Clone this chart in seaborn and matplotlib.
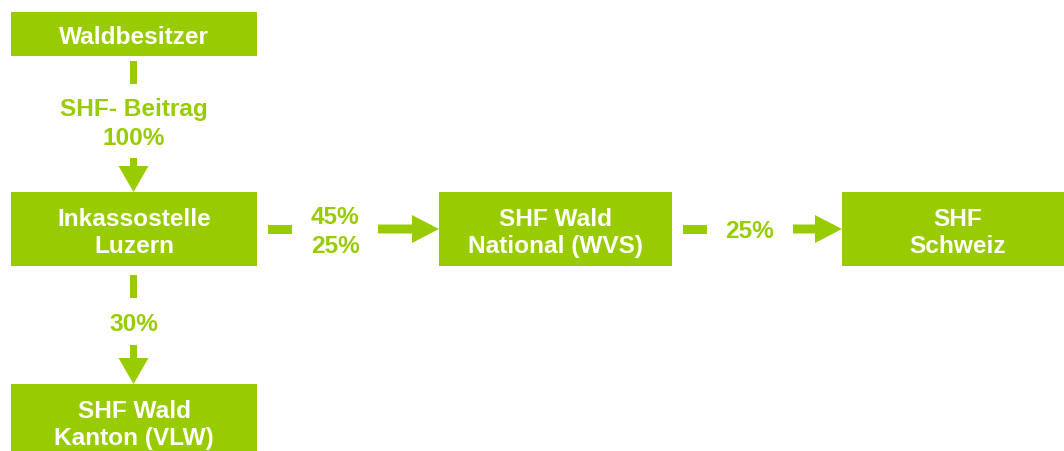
import matplotlib
matplotlib.use("Agg")
import matplotlib.pyplot as plt
from matplotlib.patches import Rectangle, FancyArrow
import seaborn as sns

# node texts
node_labels = ["Waldbesitzer", "Inkassostelle\nLuzern", "SHF Wald\nNational (WVS)",
               "SHF\nSchweiz", "SHF Wald\nKanton (VLW)"]
# flows between nodes (from, to, label)
flow_src = [0, 1, 1, 2]
flow_dst = [1, 4, 2, 3]
flow_labels = ["SHF- Beitrag\n100%", "30%", "45%\n25%", "25%"]

# layout in pixels (x0, y0, x1, y1)
boxes = [(11, 13, 257, 57), (11, 193, 257, 267), (439, 193, 672, 267),
         (842, 193, 1074, 267), (11, 385, 257, 459)]
dash_off = [5, 9, 11, 11]
arrow_len = [34, 39, 61, 49]

GREEN = "#99cc00"
FS = 17.6

sns.set_theme(style="white")
plt.rcParams["font.family"] = ["Liberation Sans", "DejaVu Sans"]

fig = plt.figure(figsize=(10.64, 4.52), dpi=100)
ax = fig.add_axes([0, 0, 1, 1])
ax.set_xlim(0, 1064)
ax.set_ylim(452, 0)
ax.axis("off")

for (x0, y0, x1, y1), lab in zip(boxes, node_labels):
    ax.add_patch(Rectangle((x0, y0), x1 - x0, y1 - y0, color=GREEN, lw=0))
    ax.text((x0 + x1) / 2, (y0 + y1) / 2 + 3, lab, color="white", fontsize=FS,
            fontweight="bold", ha="center", va="center", linespacing=1.2)

# connectors: short dash, label, arrow
for s, d, lab, off, alen in zip(flow_src, flow_dst, flow_labels, dash_off, arrow_len):
    sx0, sy0, sx1, sy1 = boxes[s]
    dx0, dy0, dx1, dy1 = boxes[d]
    if dy0 > sy1 + 5:  # vertical
        x = (sx0 + sx1) / 2 - 0.5
        start, end = sy1, dy0
        ax.add_patch(Rectangle((x - 3.5, start + off), 7, 23, color=GREEN, lw=0))
        ax.add_patch(FancyArrow(x, end - alen, 0, alen, width=7, head_width=30,
                                head_length=26, length_includes_head=True,
                                color=GREEN, lw=0))
        ty = (start + off + 23 + end - alen) / 2 + 2
        ax.text(x, ty, lab, color=GREEN, fontsize=FS, fontweight="bold",
                ha="center", va="center", linespacing=1.28)
    else:  # horizontal
        y = (sy0 + sy1) / 2
        start, end = sx1, dx0
        ax.add_patch(Rectangle((start + off, y - 4.5), 24, 9, color=GREEN, lw=0))
        ax.add_patch(FancyArrow(end - alen, y, alen, 0, width=9, head_width=28,
                                head_length=27, length_includes_head=True,
                                color=GREEN, lw=0))
        tx = (start + off + 24 + end - alen) / 2
        ax.text(tx, y + 2, lab, color=GREEN, fontsize=FS, fontweight="bold",
                ha="center", va="center", linespacing=1.28)

fig.savefig("out.png", dpi=100, facecolor="white")
